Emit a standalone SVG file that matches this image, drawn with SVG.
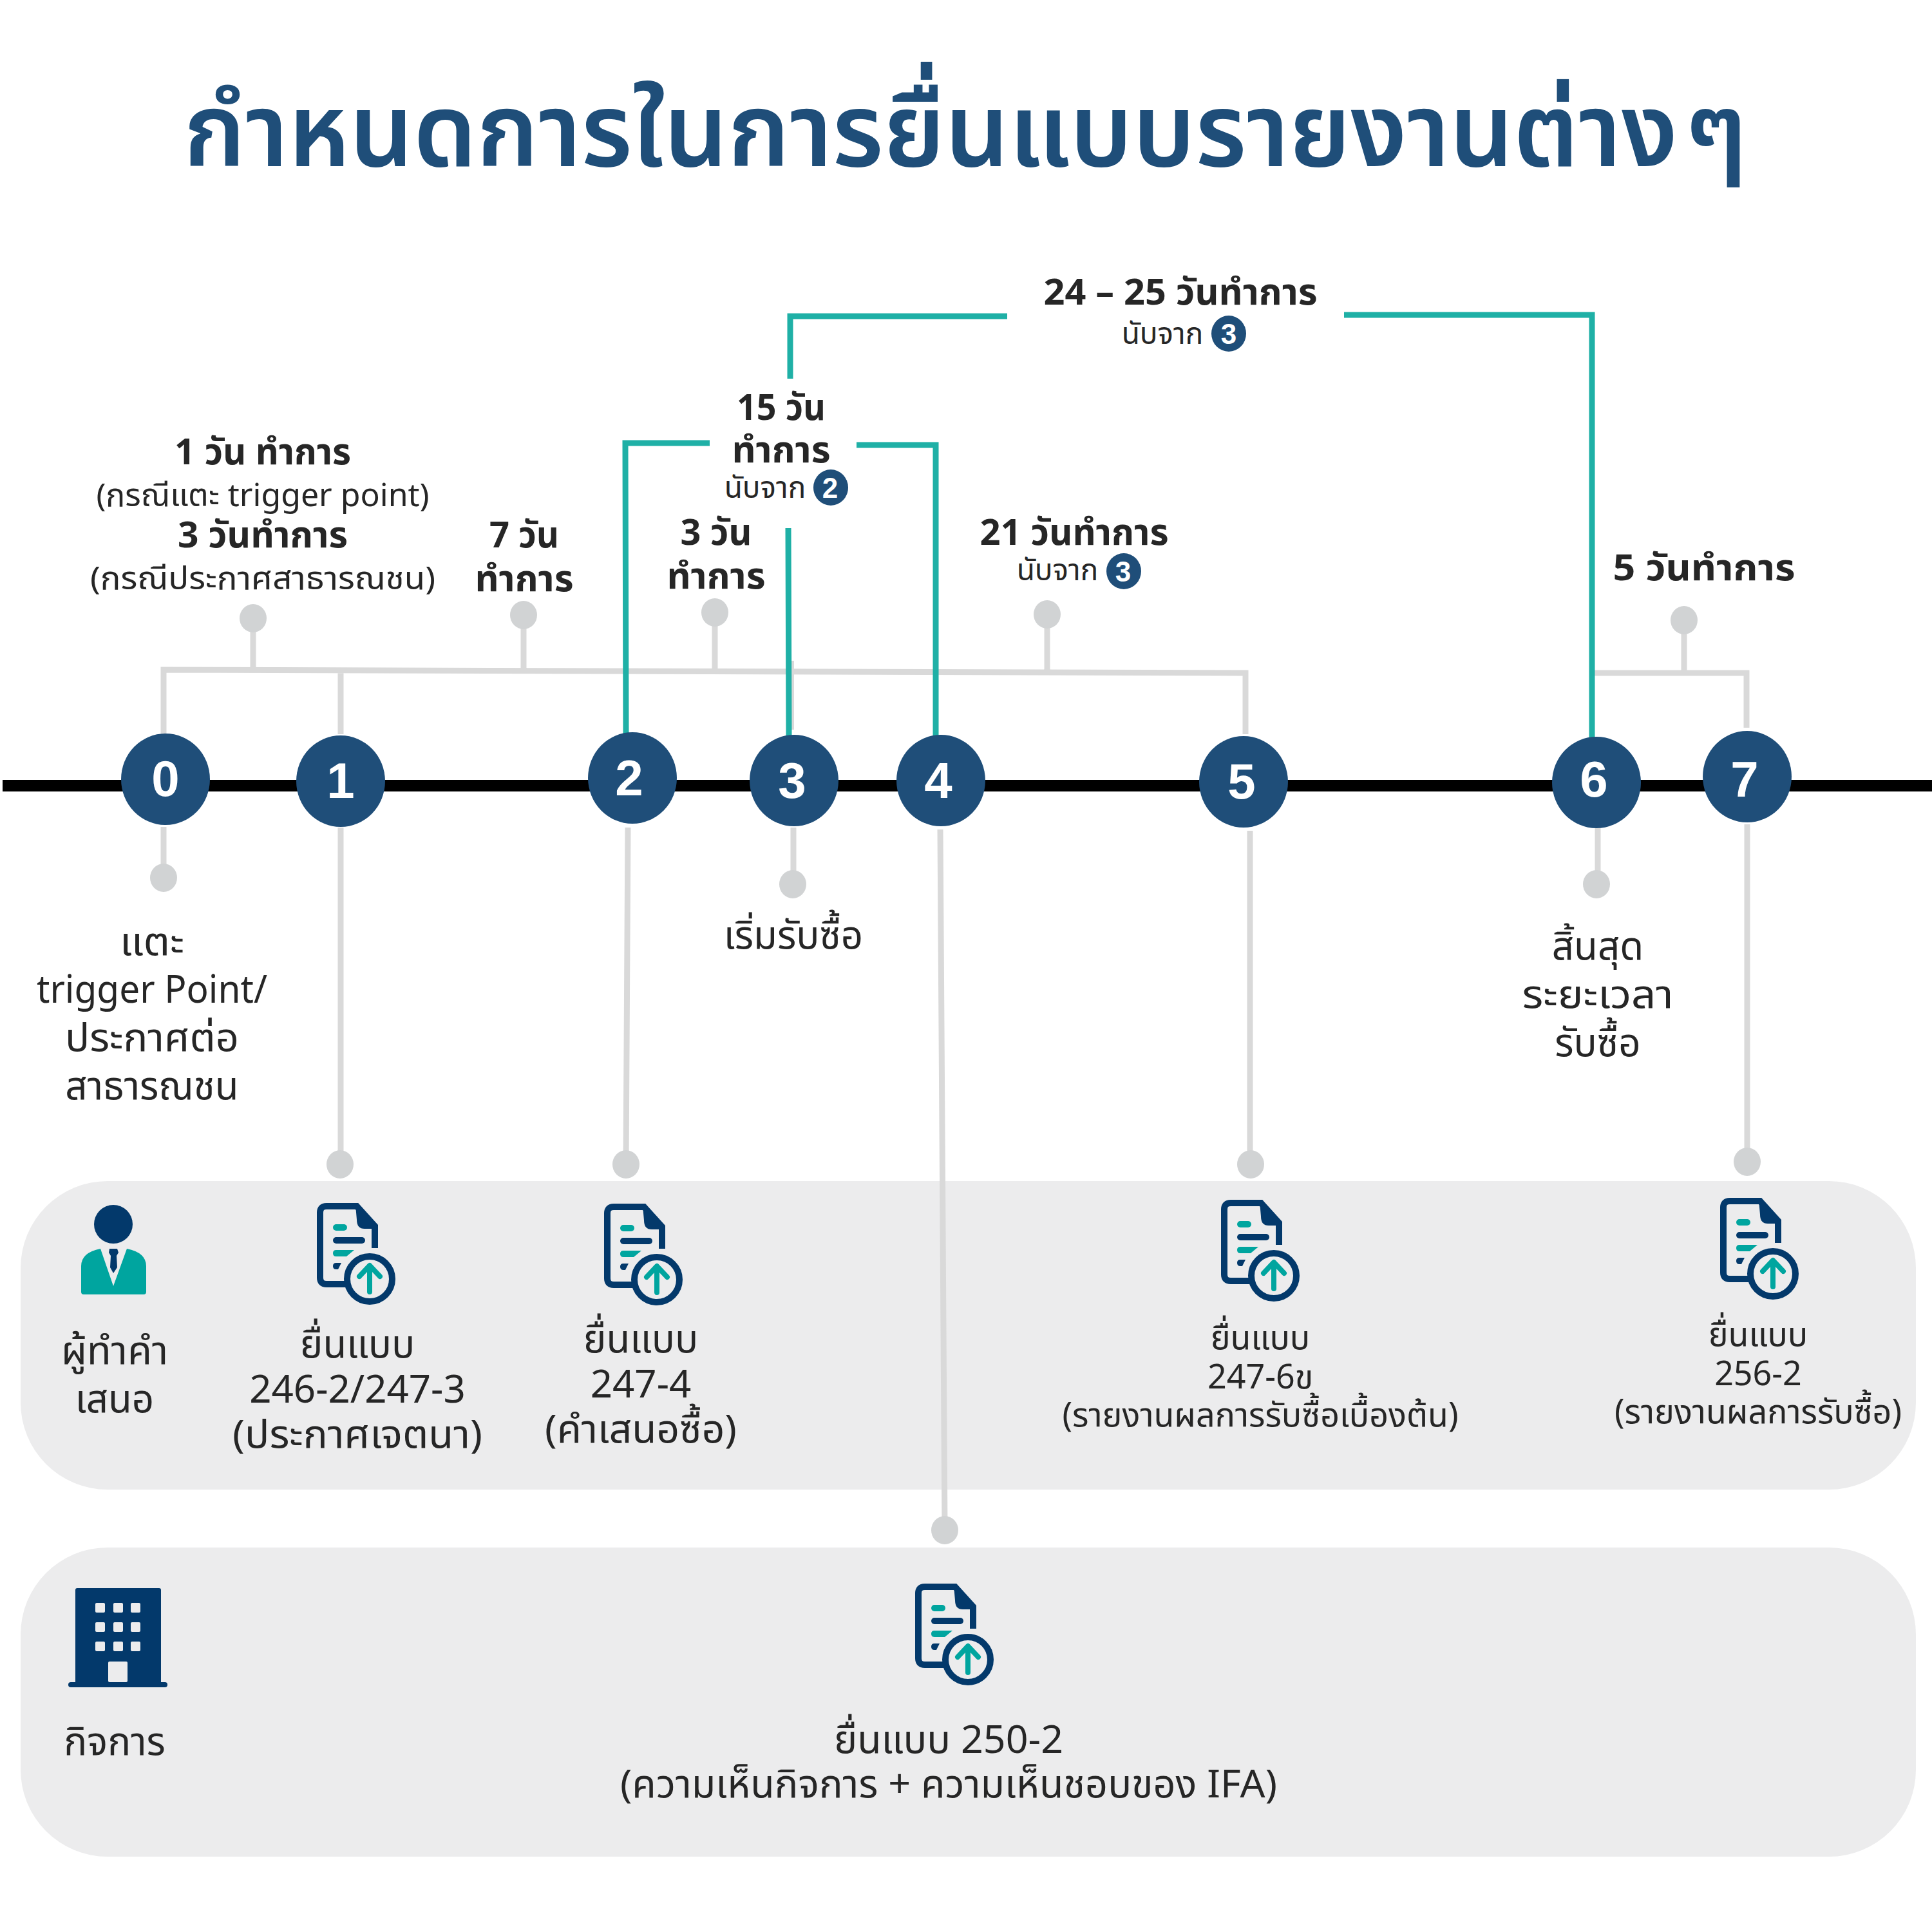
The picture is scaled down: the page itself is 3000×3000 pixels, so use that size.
<svg xmlns="http://www.w3.org/2000/svg" width="3000" height="3000" viewBox="0 0 3000 3000">
<style>
text{font-family:"Noto Sans Thai","Noto Sans","Open Sans",sans-serif;fill:#262626;text-anchor:middle}
.b{font-size:56px;font-weight:700}
.s{font-size:50px}
.m{font-size:60px}
.c{font-size:46px}
.v{font-size:52px}
.n{font-size:78px;font-weight:700;fill:#fff;font-family:"Liberation Sans",sans-serif}
.k{font-size:44px;font-weight:700;fill:#fff;font-family:"Liberation Sans",sans-serif}
.g{fill:none;stroke:#d9d9d9;stroke-width:9}
.t{fill:none;stroke:#1fb0a6;stroke-width:9}
.d{fill:#d1d3d4}
.nv{fill:#1f4e79}
</style>
<defs>
<g id="doc">
<path d="M46 126H15Q5 126 5 116V15Q5 5 15 5H62L90 36V70" fill="none" stroke="#03396b" stroke-width="10"/>
<path d="M60 3H64L93 34V40H74Q62 40 62 26Z" fill="#03396b"/>
<rect x="25" y="33" width="22" height="10" rx="5" fill="#00a59f"/>
<rect x="25" y="53" width="50" height="10" rx="5" fill="#03396b"/>
<path d="M30 73H58L46 83H30Q25 83 25 78T30 73Z" fill="#00a59f"/>
<path d="M30 93H38L33 103H30Q25 103 25 98T30 93Z" fill="#03396b"/>
<circle cx="82" cy="118" r="35" fill="#ececed" stroke="#03396b" stroke-width="10"/>
<path d="M82 138V99M66 114L82 97L98 114" fill="none" stroke="#00a59f" stroke-width="8" stroke-linecap="round" stroke-linejoin="round"/>
</g>
</defs>
<rect width="3000" height="3000" fill="#fff"/>
<text id="title" x="1499" y="258" textLength="2428" lengthAdjust="spacingAndGlyphs" style="font-size:158px;font-weight:600;fill:#1f4e79;word-spacing:-30px">กำหนดการในการยื่นแบบรายงานต่าง ๆ</text>
<g id="panels">
<rect x="32" y="1834" width="2943" height="479" rx="135" fill="#ececed"/>
<rect x="32" y="2403" width="2943" height="480" rx="135" fill="#ececed"/>
</g>
<g id="connectors">
<path d="M4 1220H3000" fill="none" stroke="#000" stroke-width="18"/>
<path class="g" d="M254 1140V1040L1934 1045V1140M393 1040V960M813 1042V955M1110 1043V951M1626 1044V954M529 1040V1140M2472 1045H2712V1130M2615 1045V963"/>
<path class="g" style="stroke-width:4" d="M1231 1026V1133"/>
<path class="g" d="M254 1284V1363M529 1285V1808M975 1285L972 1808M1232 1285V1373M1460 1288L1467 2374M1941 1290V1808M2481 1286V1373M2713 1280V1804"/>
<path class="t" d="M1227 588V491H1564M2087 489H2472V1145M972 1140L971 688H1102M1330 691H1453V1142M1224 820L1225 1143"/>
<ellipse class="d" cx="393" cy="960" rx="21" ry="22"/><ellipse class="d" cx="813" cy="955" rx="21" ry="22"/><ellipse class="d" cx="1110" cy="951" rx="21" ry="22"/><ellipse class="d" cx="1626" cy="954" rx="21" ry="22"/><ellipse class="d" cx="2615" cy="963" rx="21" ry="22"/>
<ellipse class="d" cx="254" cy="1363" rx="21" ry="22"/><ellipse class="d" cx="528" cy="1808" rx="21" ry="22"/><ellipse class="d" cx="972" cy="1808" rx="21" ry="22"/><ellipse class="d" cx="1231" cy="1373" rx="21" ry="22"/><ellipse class="d" cx="1467" cy="2376" rx="21" ry="22"/><ellipse class="d" cx="1942" cy="1808" rx="21" ry="22"/><ellipse class="d" cx="2479" cy="1373" rx="21" ry="22"/><ellipse class="d" cx="2713" cy="1804" rx="21" ry="22"/>
</g>
<g id="node0"><ellipse class="nv" cx="257" cy="1210" rx="69" ry="71"/><text class="n" x="257" y="1236">0</text></g>
<g id="node1"><ellipse class="nv" cx="529" cy="1213" rx="69" ry="71"/><text class="n" x="529" y="1239">1</text></g>
<g id="node2"><ellipse class="nv" cx="982" cy="1208" rx="69" ry="71"/><text class="n" x="977" y="1235">2</text></g>
<g id="node3"><ellipse class="nv" cx="1233" cy="1212" rx="69" ry="71"/><text class="n" x="1230" y="1239">3</text></g>
<g id="node4"><ellipse class="nv" cx="1461" cy="1212" rx="69" ry="71"/><text class="n" x="1457" y="1239">4</text></g>
<g id="node5"><ellipse class="nv" cx="1931" cy="1214" rx="69" ry="71"/><text class="n" x="1928" y="1240">5</text></g>
<g id="node6"><ellipse class="nv" cx="2479" cy="1215" rx="69" ry="71"/><text class="n" x="2475" y="1237">6</text></g>
<g id="node7"><ellipse class="nv" cx="2713" cy="1206" rx="69" ry="71"/><text class="n" x="2709" y="1237">7</text></g>

<g id="label-1day"><text class="b" x="408" y="721" textLength="274" lengthAdjust="spacingAndGlyphs">1 วัน ทำการ</text><text class="s" x="408" y="786">(กรณีแตะ trigger point)</text><text class="b" x="408" y="850" textLength="264" lengthAdjust="spacingAndGlyphs">3 วันทำการ</text><text class="s" x="408" y="915" textLength="536" lengthAdjust="spacingAndGlyphs">(กรณีประกาศสาธารณชน)</text></g>
<g id="label-7day"><text class="b" x="814" y="850" textLength="108" lengthAdjust="spacingAndGlyphs">7 วัน</text><text class="b" x="814" y="918" textLength="153" lengthAdjust="spacingAndGlyphs">ทำการ</text></g>
<g id="label-3day"><text class="b" x="1112" y="846" textLength="111" lengthAdjust="spacingAndGlyphs">3 วัน</text><text class="b" x="1112" y="914" textLength="153" lengthAdjust="spacingAndGlyphs">ทำการ</text></g>
<g id="label-15day"><text class="b" x="1213" y="652" textLength="138" lengthAdjust="spacingAndGlyphs">15 วัน</text><text class="b" x="1213" y="718" textLength="153" lengthAdjust="spacingAndGlyphs">ทำการ</text><text class="c" x="1188" y="773">นับจาก</text><ellipse class="nv" cx="1290" cy="757" rx="27" ry="28"/><text class="k" x="1289" y="773">2</text></g>
<g id="label-24day"><text class="b" x="1833" y="473" textLength="425" lengthAdjust="spacingAndGlyphs">24 – 25 วันทำการ</text><text class="c" x="1805" y="534">นับจาก</text><ellipse class="nv" cx="1908" cy="518" rx="27" ry="28"/><text class="k" x="1908" y="534">3</text></g>
<g id="label-21day"><text class="b" x="1668" y="846" textLength="293" lengthAdjust="spacingAndGlyphs">21 วันทำการ</text><text class="c" x="1642" y="901">นับจาก</text><ellipse class="nv" cx="1745" cy="887" rx="27" ry="28"/><text class="k" x="1744" y="903">3</text></g>
<g id="label-5day"><text class="b" x="2646" y="901" textLength="283" lengthAdjust="spacingAndGlyphs">5 วันทำการ</text></g>
<g id="label-start"><text class="m" x="1232" y="1473">เริ่มรับซื้อ</text></g>
<g id="label-end"><text class="m" x="2481" y="1490">สิ้นสุด</text><text class="m" x="2481" y="1565" textLength="235" lengthAdjust="spacingAndGlyphs">ระยะเวลา</text><text class="m" x="2481" y="1640">รับซื้อ</text></g>
<g id="label-touch"><text class="m" x="236" y="1483" textLength="100" lengthAdjust="spacingAndGlyphs">แตะ</text><text class="m" x="236" y="1557" textLength="358" lengthAdjust="spacingAndGlyphs">trigger Point/</text><text class="m" x="236" y="1632" textLength="270" lengthAdjust="spacingAndGlyphs">ประกาศต่อ</text><text class="m" x="236" y="1707">สาธารณชน</text></g>

<g id="offeror">
<ellipse cx="176" cy="1901" rx="30" ry="30" fill="#03396b"/>
<path d="M156 1939L176 1997L197 1939Q227 1945 227 1966V2006Q227 2010 223 2010H130Q126 2010 126 2006V1966Q126 1945 156 1939Z" fill="#00a59f"/>
<path d="M170 1939H182L184 1945L181 1950L182 1968L176 1977L171 1968L172 1950L169 1945Z" fill="#03396b"/>
<text class="m" x="178" y="2118" textLength="166" lengthAdjust="spacingAndGlyphs">ผู้ทำคำ</text><text class="m" x="178" y="2193">เสนอ</text>
</g>
<g id="form1"><use href="#doc" x="492" y="1868"/><text class="m" x="555" y="2108">ยื่นแบบ</text><text class="m" x="555" y="2178">246-2/247-3</text><text class="m" x="555" y="2248" textLength="388" lengthAdjust="spacingAndGlyphs">(ประกาศเจตนา)</text></g>
<g id="form2"><use href="#doc" x="938" y="1869"/><text class="m" x="995" y="2100">ยื่นแบบ</text><text class="m" x="995" y="2170">247-4</text><text class="m" x="995" y="2240" textLength="298" lengthAdjust="spacingAndGlyphs">(คำเสนอซื้อ)</text></g>
<g id="form5"><use href="#doc" x="1896" y="1863"/><text class="v" x="1957" y="2095">ยื่นแบบ</text><text class="v" x="1957" y="2156">247-6ข</text><text class="v" x="1957" y="2215">(รายงานผลการรับซื้อเบื้องต้น)</text></g>
<g id="form7"><use href="#doc" x="2671" y="1860"/><text class="v" x="2730" y="2090">ยื่นแบบ</text><text class="v" x="2730" y="2151">256-2</text><text class="v" x="2730" y="2210">(รายงานผลการรับซื้อ)</text></g>
<g id="company">
<rect x="117" y="2466" width="133" height="150" rx="3" fill="#03396b"/>
<rect x="106" y="2612" width="154" height="8" rx="4" fill="#03396b"/>
<g fill="#ececed"><rect x="148" y="2489" width="15" height="15" rx="2"/><rect x="176" y="2489" width="15" height="15" rx="2"/><rect x="203" y="2489" width="15" height="15" rx="2"/><rect x="148" y="2519" width="15" height="15" rx="2"/><rect x="176" y="2519" width="15" height="15" rx="2"/><rect x="203" y="2519" width="15" height="15" rx="2"/><rect x="148" y="2549" width="15" height="15" rx="2"/><rect x="176" y="2549" width="15" height="15" rx="2"/><rect x="203" y="2549" width="15" height="15" rx="2"/><rect x="168" y="2580" width="30" height="32" rx="2"/></g>
<text class="m" x="178" y="2725">กิจการ</text>
</g>
<g id="form4"><use href="#doc" x="1421" y="2459"/><text class="m" x="1473" y="2722" textLength="356" lengthAdjust="spacingAndGlyphs">ยื่นแบบ 250-2</text><text class="m" x="1473" y="2791" textLength="1020" lengthAdjust="spacingAndGlyphs">(ความเห็นกิจการ + ความเห็นชอบของ IFA)</text></g>
</svg>
